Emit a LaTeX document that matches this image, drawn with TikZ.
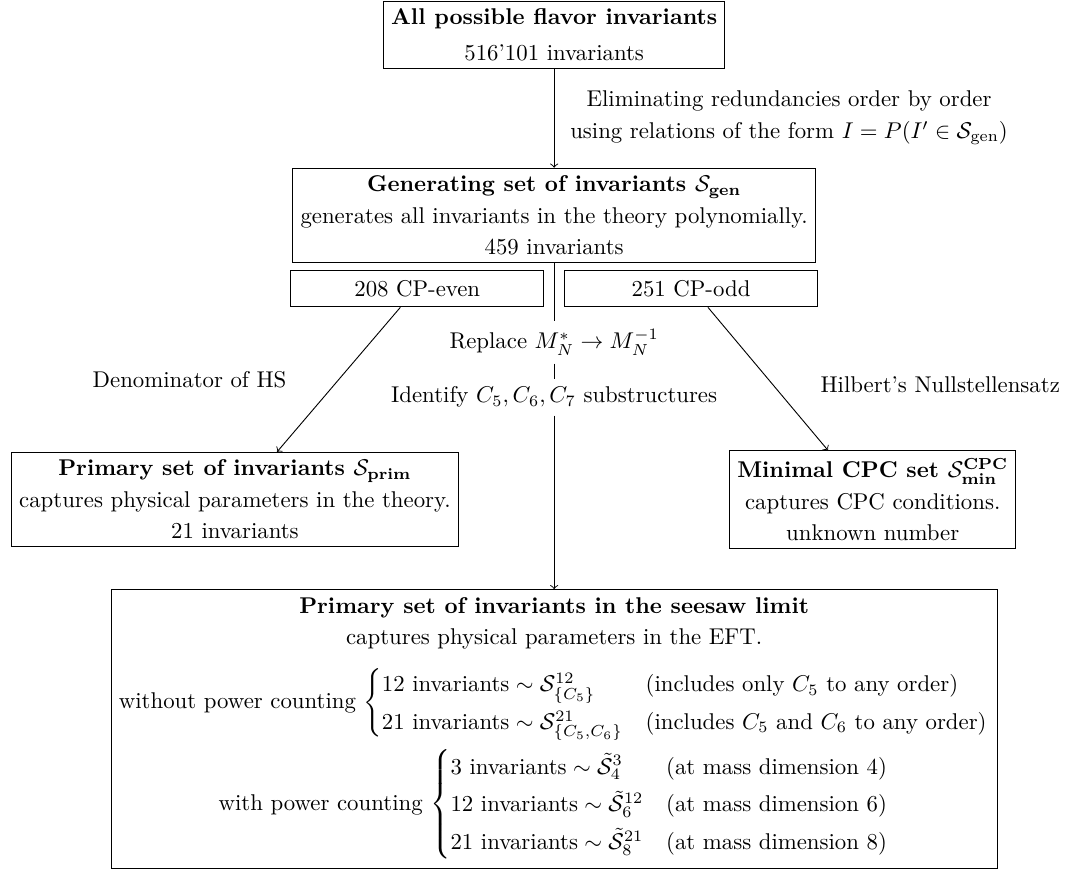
\documentclass[tikz,border=0pt]{standalone}
\usepackage{mathtools,amssymb,tikz}
\usetikzlibrary{positioning}
\linespread{1.15}

\begin{document}
\begin{tikzpicture}[>=to, invbox/.style={draw, align=center}]
        \useasboundingbox (0,0) rectangle (16.49,-13.41);
        \node[invbox, anchor=north] (all) at (8.54,-0.01) {\textbf{All possible flavor invariants}\\[2pt] 516'101 invariants};
        \node[invbox, anchor=north] (gen) at (8.54,-2.585) {\textbf{Generating set of invariants $\mathcal{S}_{\textbf{gen}}$}\\ generates all invariants in the theory polynomially.\\ 459 invariants};
        \node[invbox, anchor=north, minimum width=3.9cm, minimum height=0.56cm] (even) at (6.43,-4.162) {208 CP-even};
        \node[invbox, anchor=north, minimum width=3.9cm, minimum height=0.56cm] (odd) at (10.65,-4.162) {251 CP-odd};
        \node[invbox, anchor=north] (prim) at (3.62,-6.963) {\textbf{Primary set of invariants $\mathcal{S}_{\textbf{prim}}$}\\ captures physical parameters in the theory.\\ 21 invariants};
        \node[invbox, anchor=north] (cpc) at (13.45,-6.94) {\textbf{Minimal CPC set $\mathcal{S}^{\textbf{CPC}}_{\textbf{min}}$}\\ captures CPC conditions.\\ unknown number};
        \node[invbox, anchor=north] (seesaw) at (8.54,-9.08) {\textbf{Primary set of invariants in the seesaw limit}\\
                captures physical parameters in the EFT.\\[6pt]
                without power counting $\begin{cases}
                        \text{12 invariants} \sim \mathcal{S}^{12}_{\{C_5\}} & \text{(includes only $C_5$ to any order)}\\
                        \text{21 invariants} \sim \mathcal{S}^{21}_{\{C_5,C_6\}} & \text{(includes $C_5$ and $C_6$ to any order)}
                \end{cases}$\\[2pt]
                with power counting $\begin{cases}
                        \text{3 invariants} \sim \tilde{\mathcal{S}}^{3}_{4} & \text{(at mass dimension 4)}\\
                        \text{12 invariants} \sim \tilde{\mathcal{S}}^{12}_{6} & \text{(at mass dimension 6)}\\
                        \text{21 invariants} \sim \tilde{\mathcal{S}}^{21}_{8} & \text{(at mass dimension 8)}
                \end{cases}$};

        % labels of the steps
        \node[align=center] (elim) at (12.16,-1.82) {Eliminating redundancies order by order\\ using relations of the form $I = P(I' \in \mathcal{S}_\text{gen})$};
        \node (repl) at (8.54,-5.272) {Replace $M_N^* \to M_N^{-1}$};
        \node (ident) at (8.54,-6.12) {Identify $C_5, C_6, C_7$ substructures};
        \node (hs) at (2.921,-5.858) {Denominator of HS};
        \node (null) at (14.49,-5.93) {Hilbert's Nullstellensatz};

        \draw[->] (all) -- (gen);
        \draw (gen) -- (repl);
        \draw (repl) -- (ident);
        \draw[->] (ident) -- (seesaw);
        \draw[->] ([xshift=-0.26cm]even.south) -- ([xshift=0.65cm]prim.north);
        \draw[->] ([xshift=0.26cm]odd.south) -- ([xshift=-0.69cm]cpc.north);
\end{tikzpicture}
\end{document}
